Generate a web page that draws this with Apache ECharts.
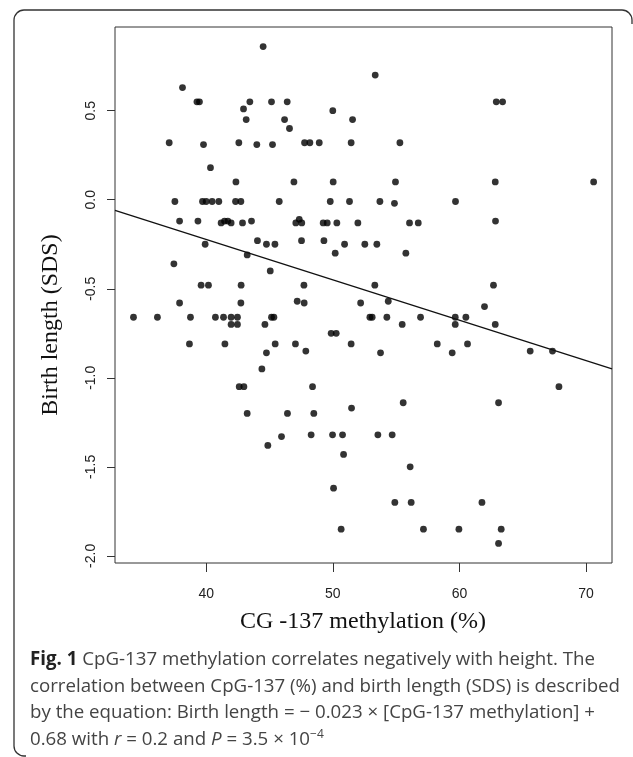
<!DOCTYPE html>
<html><head><meta charset="utf-8">
<script src="https://cdn.jsdelivr.net/npm/echarts@6/dist/echarts.min.js"></script>
<style>html,body{margin:0;padding:0;background:#fff}#c{width:633px;height:757px}</style>
</head><body><div id="c"></div>
<script>
// CpG-137 methylation (%) for each subject
const methylation = [
  44.5, 38.13, 39.27, 39.47, 42.95, 43.45, 43.16, 45.16, 46.4, 46.19, 46.58, 50.0, 51.56, 53.35, 62.91, 63.41,
  37.08, 39.79, 42.58, 44.0, 45.24, 47.77, 48.19, 48.93, 51.45, 55.3,
  40.34, 42.35, 46.93, 50.03, 54.95, 62.83, 70.6,
  37.53, 39.71, 40.0, 40.47, 41.0, 42.32, 42.74, 45.77, 49.8, 51.32, 53.72, 59.69, 54.87,
  37.9, 39.35, 41.18, 41.45, 41.71, 41.97, 42.87, 43.58, 47.08, 47.35, 47.55, 49.24, 49.56, 50.32, 51.98, 56.06, 56.75, 62.85,
  39.92, 44.05, 44.76, 45.43, 47.53, 49.3, 50.93, 52.53, 53.48,
  50.19, 55.77, 43.24, 37.45, 45.06,
  39.6, 40.18, 42.76, 47.72, 53.32, 62.69,
  37.9, 42.74, 47.19, 47.74, 52.2, 54.38, 61.98,
  34.26, 36.15, 38.76, 40.73, 41.37, 41.97, 42.47, 45.16, 45.35, 52.93, 53.11, 54.27, 56.93, 59.67, 60.51,
  41.97, 42.47, 44.64, 55.48, 59.67, 62.83,
  49.87, 50.27,
  38.68, 41.48, 45.45, 47.05, 51.45, 58.25, 60.64,
  44.76, 47.87, 53.77, 59.43, 65.59, 67.35,
  44.4,
  42.61, 42.98, 48.4, 67.86,
  51.48, 55.56, 63.09,
  43.24, 46.42, 48.5,
  45.95, 48.29, 49.98, 50.77, 53.56, 54.69,
  44.87, 50.85, 56.11, 50.06,
  54.9, 56.19, 61.78,
  50.66, 57.16, 59.96, 63.3,
  63.09
];
// Birth length (SDS) for each subject, same order
const birthLength = [
  0.86, 0.63, 0.55, 0.55, 0.51, 0.55, 0.45, 0.55, 0.55, 0.45, 0.40, 0.50, 0.45, 0.70, 0.55, 0.55,
  0.32, 0.31, 0.32, 0.31, 0.31, 0.32, 0.32, 0.32, 0.32, 0.32,
  0.18, 0.10, 0.10, 0.10, 0.10, 0.10, 0.10,
  -0.01, -0.01, -0.01, -0.01, -0.01, -0.01, -0.01, -0.01, -0.01, -0.01, -0.01, -0.01, -0.02,
  -0.12, -0.12, -0.13, -0.12, -0.12, -0.13, -0.13, -0.12, -0.13, -0.11, -0.13, -0.13, -0.13, -0.13, -0.13, -0.13, -0.13, -0.12,
  -0.25, -0.23, -0.25, -0.25, -0.23, -0.23, -0.25, -0.25, -0.25,
  -0.30, -0.30, -0.31, -0.36, -0.40,
  -0.48, -0.48, -0.48, -0.48, -0.48, -0.48,
  -0.58, -0.58, -0.57, -0.58, -0.58, -0.57, -0.60,
  -0.66, -0.66, -0.66, -0.66, -0.66, -0.66, -0.66, -0.66, -0.66, -0.66, -0.66, -0.66, -0.66, -0.66, -0.66,
  -0.70, -0.70, -0.70, -0.70, -0.70, -0.70,
  -0.75, -0.75,
  -0.81, -0.81, -0.81, -0.81, -0.81, -0.81, -0.81,
  -0.86, -0.85, -0.86, -0.86, -0.85, -0.85,
  -0.95,
  -1.05, -1.05, -1.05, -1.05,
  -1.17, -1.14, -1.14,
  -1.20, -1.20, -1.20,
  -1.33, -1.32, -1.32, -1.32, -1.32, -1.32,
  -1.38, -1.43, -1.50, -1.62,
  -1.70, -1.70, -1.70,
  -1.85, -1.85, -1.85, -1.85,
  -1.93
];
// regression line end points (read at the plot edges)
const fitX = [32.8, 72.05];
const fitY = [-0.06, -0.95];
const xTicks = [40, 50, 60, 70];
const yTicks = [-2.0, -1.5, -1.0, -0.5, 0.0, 0.5];
const xTitle = 'CG -137 methylation (%)';
const yTitle = 'Birth length (SDS)';
const captionLines = [
  '{b|Fig. 1} CpG-137 methylation correlates negatively with height. The',
  'correlation between CpG-137 (%) and birth length (SDS) is described',
  'by the equation: Birth length = \u2212 0.023 \u00d7 [CpG-137 methylation] +',
  '0.68 with {i|r} = 0.2 and {i|P} = 3.5 \u00d7 10{sup|\u22124}'
];

const points = methylation.map((x, i) => [x, birthLength[i]]);
const fitData = fitX.map((x, i) => [x, fitY[i]]);

const chart = echarts.init(document.getElementById('c'), null, {renderer: 'canvas'});
const tickFont = {fontFamily: '"Liberation Sans", Arial, sans-serif', fontSize: 14, color: '#222'};
const capY = [660, 687, 713, 740];
const capFont = '"Open Sans", sans-serif';
const capSize = 18.7;

chart.setOption({
  animation: false,
  backgroundColor: '#fff',
  grid: {left: 115, right: 21, top: 27, bottom: 194, show: true, borderColor: '#333', borderWidth: 1, backgroundColor: 'transparent'},
  xAxis: {
    type: 'value', min: 32.8, max: 72.05,
    axisLine: {show: false, onZero: false},
    axisTick: {show: true, length: 9, customValues: xTicks, lineStyle: {color: '#333', width: 1}},
    axisLabel: Object.assign({customValues: xTicks, margin: 24}, tickFont),
    splitLine: {show: false}
  },
  yAxis: {
    type: 'value', min: -2.04, max: 0.97,
    axisLine: {show: false, onZero: false},
    axisTick: {show: true, length: 8, customValues: yTicks, lineStyle: {color: '#333', width: 1}},
    axisLabel: Object.assign({customValues: yTicks, margin: 17, rotate: 90, formatter: v => v.toFixed(1)}, tickFont),
    splitLine: {show: false}
  },
  series: [
    {type: 'scatter', data: points, symbol: 'circle', symbolSize: 6.8, itemStyle: {color: '#000'}, silent: true},
    {type: 'line', data: fitData, showSymbol: false, lineStyle: {color: '#111', width: 1.3}, silent: true}
  ],
  graphic: [
    {type: 'rect', shape: {x: 14, y: 10, width: 618, height: 746, r: 10},
     style: {stroke: '#333', fill: 'none', lineWidth: 1.3}, silent: true, z: -10},
    {type: 'rect', shape: {x: 626, y: 24, width: 10, height: 740}, style: {fill: '#fff'}, silent: true, z: -5},
    {type: 'rect', shape: {x: 26, y: 750, width: 620, height: 10}, style: {fill: '#fff'}, silent: true, z: -5},
    {type: 'text', x: 363, y: 622, style: {text: xTitle, fontFamily: '"Liberation Serif", "Times New Roman", serif', fontSize: 24, fill: '#111', textAlign: 'center', textVerticalAlign: 'middle'}},
    {type: 'text', x: 51, y: 325, rotation: Math.PI / 2, style: {text: yTitle, fontFamily: '"Liberation Serif", "Times New Roman", serif', fontSize: 24, fill: '#111', textAlign: 'center', textVerticalAlign: 'middle'}}
  ].concat(captionLines.map((t, i) => ({
    type: 'text', x: 30, y: capY[i],
    style: {
      text: t, fontFamily: capFont, fontSize: capSize, fill: '#444', textVerticalAlign: 'middle', lineHeight: 22,
      rich: {
        b: {fontWeight: 'bold', fill: '#222', fontFamily: capFont, fontSize: capSize, lineHeight: 22},
        i: {fontStyle: 'italic', fill: '#444', fontFamily: capFont, fontSize: capSize, lineHeight: 22},
        sup: {fontSize: 12, fill: '#444', fontFamily: capFont, verticalAlign: 'top', lineHeight: 12}
      }
    }
  })))
});
</script></body></html>
